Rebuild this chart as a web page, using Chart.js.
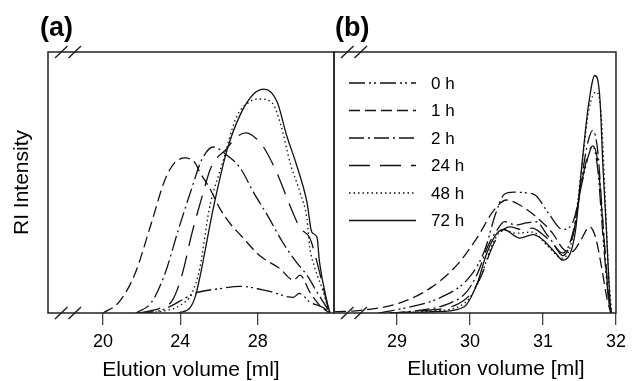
<!DOCTYPE html>
<html>
<head>
<meta charset="utf-8">
<script src="https://cdn.jsdelivr.net/npm/chart.js@4.4.1/dist/chart.umd.min.js"></script>
<style>
  html, body { margin: 0; padding: 0; background: #fff; }
  #wrap { position: relative; width: 632px; height: 381px; overflow: hidden; }
  canvas { position: absolute; top: 0; }
  #chartA { left: 0; }
  #chartB { left: 300px; }
</style>
</head>
<body>
<div id="wrap">
  <canvas id="chartA" width="336" height="381"></canvas>
  <canvas id="chartB" width="332" height="381"></canvas>
</div>
<script>
// Series (reaction time)
const hours = ["0 h", "1 h", "2 h", "24 h", "48 h", "72 h"];

// Panel (a): elution volume [ml] and RI intensity (arbitrary units, 0-100)
const volA0 = [21.8, 23.0, 23.6, 24.2, 24.8, 26.0, 27.1, 28.5, 29.85, 30.15, 30.7, 31.4, 31.75];
const riA0 = [0, 1, 3, 5.5, 7.7, 9.3, 10.2, 8.5, 6, 7.5, 4.2, 2, 0];
const volA1 = [20.0, 20.8, 21.65, 22.5, 23.2, 23.7, 24.25, 24.76, 25.0, 25.5, 26.05, 26.6, 27.1, 28.1, 29.15, 29.85, 30.2, 30.7, 31.2, 31.7];
const riA1 = [0, 4, 15, 34.5, 51, 57.5, 59.4, 57.5, 54, 48, 40, 34, 30, 22, 17, 12.6, 14.5, 8, 3, 0];
const volA2 = [21.7, 22.5, 23.2, 23.9, 24.6, 25.1, 25.7, 26.4, 27.1, 27.8, 28.5, 29.3, 30.0, 30.55, 31.07, 31.5, 31.75];
const riA2 = [0, 4, 15, 32, 48, 58.6, 63.6, 60.5, 55.5, 46, 37.5, 27, 19.5, 14.5, 8, 3, 0];
const volA24 = [21.9, 23.0, 23.6, 24.1, 24.6, 25.1, 25.6, 26.4, 26.9, 27.4, 27.9, 28.3, 29.0, 29.7, 30.2, 30.7, 31.07, 31.4, 31.65, 31.78];
const riA24 = [0, 2, 5, 15, 30.6, 44, 56, 63, 67.4, 69, 67, 63.6, 53.6, 40.6, 32.6, 28.7, 19.5, 9.6, 2, 0];
const volA48 = [22.0, 23.3, 24.0, 24.6, 25.0, 25.5, 26.2, 26.9, 27.6, 28.1, 28.75, 29.2, 29.7, 30.2, 30.55, 30.7, 30.97, 31.4, 31.7];
const riA48 = [0, 1, 3, 7.6, 17, 40, 58, 75, 81, 82, 80.5, 72, 57, 46, 36, 25, 17, 8, 0];
const volA72 = [23.9, 24.5, 24.76, 25.0, 25.7, 26.4, 27.1, 27.8, 28.33, 29.0, 29.5, 30.0, 30.55, 30.8, 31.07, 31.2, 31.6, 31.75];
const riA72 = [0, 2, 6, 13.4, 40, 62, 76, 84, 85.8, 81, 68, 57, 42.5, 31, 29, 19.5, 4, 0];

// Panel (b)
const volB0 = [28.75, 28.95, 29.6, 30.0, 30.2, 30.35, 30.47, 30.6, 30.77, 30.9, 31.08, 31.27, 31.42, 31.52, 31.62, 31.68, 31.75, 31.82, 31.9, 31.94];
const riB0 = [0, 1, 6, 14, 24, 38, 45.5, 46.3, 46, 45, 38, 32, 35.6, 48, 60, 64, 55, 30, 5, 0];
const volB1 = [28.15, 28.5, 29.03, 29.48, 29.84, 30.1, 30.33, 30.5, 30.68, 30.9, 31.13, 31.3, 31.4, 31.5, 31.64, 31.72, 31.8, 31.88, 31.93];
const riB1 = [0.5, 1, 3.8, 10, 19, 29, 39.5, 43.3, 41.4, 37, 30.6, 24, 23.5, 27, 33, 29, 18, 5, 0];
const volB2 = [28.9, 29.3, 29.7, 29.95, 30.1, 30.25, 30.37, 30.47, 30.63, 30.77, 30.9, 31.08, 31.27, 31.42, 31.53, 31.62, 31.68, 31.75, 31.82, 31.9, 31.94];
const riB2 = [0, 1, 3.5, 8, 15, 26, 31.8, 35, 33.7, 34.5, 35, 29, 23, 32, 52, 66, 70, 62, 35, 6, 0];
const volB24 = [28.9, 29.4, 29.8, 30.0, 30.15, 30.3, 30.42, 30.55, 30.7, 30.85, 31.0, 31.15, 31.27, 31.42, 31.53, 31.62, 31.68, 31.75, 31.82, 31.9, 31.94];
const riB24 = [0, 1, 3, 7, 14, 25, 31, 33, 32, 32.5, 30, 26, 22, 31, 50, 61, 64, 58, 34, 6, 0];
const volB48 = [28.9, 29.5, 29.85, 30.0, 30.15, 30.3, 30.46, 30.63, 30.86, 31.05, 31.27, 31.42, 31.53, 31.63, 31.73, 31.8, 31.85, 31.9, 31.94];
const riB48 = [0, 0.8, 2.5, 6, 14, 26, 31.8, 30.6, 31, 26, 21, 31, 56, 78, 84.7, 75, 45, 15, 0];
const volB72 = [28.9, 29.6, 29.92, 30.1, 30.23, 30.37, 30.46, 30.68, 30.86, 31.0, 31.17, 31.27, 31.44, 31.53, 31.62, 31.71, 31.78, 31.82, 31.87, 31.91, 31.93];
const riB72 = [0, 0.6, 2.4, 11.5, 23, 30.6, 32, 28.7, 30, 28, 23, 20.3, 30.6, 56, 79, 91, 82, 56.7, 31, 8, 0];

// Tick labels
const ticksA = [20, 24, 28];
const ticksB = [29, 30, 31, 32];

const FONT = "'Liberation Sans', Arial, Helvetica, sans-serif";
const dashes = [[16, 4, 2, 3, 2, 4], [11, 5], [15, 4, 2, 4], [21, 10], [1.5, 3], []];

function makeSets(vols, ris) {
  return hours.map((h, i) => ({
    label: h,
    data: vols[i].map((x, k) => ({ x: x, y: ris[i][k] })),
    borderColor: "#111",
    borderWidth: 1.3,
    borderDash: dashes[i],
    pointRadius: 0,
    fill: false,
    cubicInterpolationMode: "monotone"
  }));
}

// frame, break marks, panel label, legend
const decor = {
  id: "decor",
  afterDraw(chart, args, opts) {
    const { ctx, chartArea: a } = chart;
    ctx.save();
    ctx.strokeStyle = "#222";
    ctx.lineWidth = 1.5;
    ctx.setLineDash([]);
    ctx.strokeRect(a.left, a.top, a.right - a.left, a.bottom - a.top);
    [a.top, a.bottom].forEach(y => {
      [[7, 19.5], [20.5, 33]].forEach(([x0, x1]) => {
        ctx.beginPath();
        ctx.moveTo(a.left + x0, y + 6);
        ctx.lineTo(a.left + x1, y - 6);
        ctx.stroke();
      });
    });
    ctx.fillStyle = "#000";
    ctx.textAlign = "left";
    ctx.textBaseline = "alphabetic";
    ctx.font = "bold 27px " + FONT;
    ctx.fillText(opts.label, opts.labelX, 36);

    if (opts.xTitle) {
      ctx.font = "21px " + FONT;
      ctx.textAlign = "center";
      ctx.textBaseline = "middle";
      ctx.fillText(opts.xTitle, opts.xTitleX, 369);
    }

    if (opts.legend) {
      ctx.font = "17px " + FONT;
      ctx.textAlign = "left";
      ctx.textBaseline = "middle";
      chart.data.datasets.forEach((ds, i) => {
        const y = 83 + i * 27.5;
        ctx.lineWidth = 1.3;
        ctx.strokeStyle = "#111";
        ctx.setLineDash(ds.borderDash);
        ctx.beginPath();
        ctx.moveTo(49, y);
        ctx.lineTo(116, y);
        ctx.stroke();
        ctx.setLineDash([]);
        ctx.fillText(ds.label, 131, y + 1);
      });
    }
    ctx.restore();
  }
};

function xAxis(min, max, ticks, title) {
  return {
    type: "linear",
    position: "bottom",
    min: min,
    max: max,
    afterBuildTicks: s => { s.ticks = ticks.map(v => ({ value: v })); },
    afterFit: s => { s.height = 68; },
    grid: { display: true, drawOnChartArea: false, drawTicks: true, tickLength: 12, color: "#444", lineWidth: 1.3 },
    border: { display: false },
    ticks: { color: "#000", font: { family: FONT, size: 18 }, padding: 6, maxRotation: 0 },
    title: { display: !!title, text: title, color: "#000", font: { family: FONT, size: 21 }, padding: { top: 0, bottom: -2 } }
  };
}

new Chart(document.getElementById("chartA"), {
  type: "line",
  data: { datasets: makeSets([volA0, volA1, volA2, volA24, volA48, volA72], [riA0, riA1, riA2, riA24, riA48, riA72]) },
  options: {
    responsive: false,
    animation: false,
    layout: { padding: { left: 0, top: 52, right: 2, bottom: 0 } },
    scales: {
      x: xAxis(17.15, 31.95, ticksA, "Elution volume [ml]"),
      y: {
        min: 0, max: 100,
        afterFit: s => { s.width = 48; },
        ticks: { display: false },
        grid: { display: false },
        border: { display: false },
        title: { display: true, text: "RI Intensity", color: "#000", font: { family: FONT, size: 21 }, padding: { top: 10, bottom: 0 } }
      }
    },
    plugins: {
      legend: { display: false },
      tooltip: { enabled: false },
      decor: { label: "(a)", labelX: 40 }
    }
  },
  plugins: [decor]
});

new Chart(document.getElementById("chartB"), {
  type: "line",
  data: { datasets: makeSets([volB0, volB1, volB2, volB24, volB48, volB72], [riB0, riB1, riB2, riB24, riB48, riB72]) },
  options: {
    responsive: false,
    animation: false,
    layout: { padding: { left: 34, top: 52, right: 10, bottom: 0 } },
    scales: {
      x: xAxis(28.135, 32, ticksB, ""),
      y: { min: 0, max: 100, display: false }
    },
    plugins: {
      legend: { display: false },
      tooltip: { enabled: false },
      decor: { label: "(b)", labelX: 35, xTitle: "Elution volume [ml]", xTitleX: 196, legend: true }
    }
  },
  plugins: [decor]
});
</script>
</body>
</html>
